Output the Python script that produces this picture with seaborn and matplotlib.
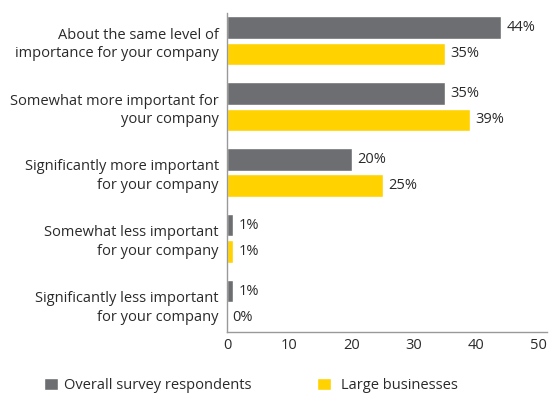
import matplotlib
matplotlib.use("Agg")
import matplotlib.pyplot as plt
import seaborn as sns
import pandas as pd
from matplotlib.patches import Patch

categories = [
    "About the same level of\nimportance for your company",
    "Somewhat more important for\nyour company",
    "Significantly more important\nfor your company",
    "Somewhat less important\nfor your company",
    "Significantly less important\nfor your company",
]
series_names = ["Overall survey respondents", "Large businesses"]
overall = [44, 35, 20, 1, 1]
large = [35, 39, 25, 1, 0]
x_ticks = [0, 10, 20, 30, 40, 50]

colors = ["#6d6e71", "#ffd200"]
text_color = "#2a2a2a"

rows = []
for c, v in zip(categories, overall):
    rows.append({"category": c, "series": series_names[0], "value": v})
for c, v in zip(categories, large):
    rows.append({"category": c, "series": series_names[1], "value": v})
df = pd.DataFrame(rows)

sns.set_theme(style="white")
plt.rcParams["font.family"] = ["Open Sans", "DejaVu Sans"]

fig = plt.figure(figsize=(5.53, 3.94), dpi=100)
ax = fig.add_axes([227 / 553, 1 - 332 / 394, 320 / 553, (332 - 13) / 394])

sns.barplot(data=df, y="category", x="value", hue="series", order=categories,
            hue_order=series_names, palette=colors, orient="h",
            width=0.8, gap=0.15, ax=ax, legend=False, saturation=1)

for cont in ax.containers:
    ax.bar_label(cont, fmt="%d%%", padding=4, fontsize=10.5, color=text_color)

ax.set_xlim(0, 51.4)
ax.set_ylim(4.42, -0.42)
ax.set_xticks(x_ticks)
ax.set_xticklabels([str(t) for t in x_ticks], fontsize=10.5, color=text_color)
ax.tick_params(axis="y", labelsize=10.5, colors=text_color, length=0, pad=6)
ax.tick_params(axis="x", length=0, pad=4)
for lbl in ax.get_yticklabels():
    lbl.set_horizontalalignment("right")
    lbl.set_multialignment("right")
    lbl.set_linespacing(1.3)
ax.set_xlabel("")
ax.set_ylabel("")
for s in ["top", "right"]:
    ax.spines[s].set_visible(False)
for s in ["left", "bottom"]:
    ax.spines[s].set_color("#999999")
    ax.spines[s].set_linewidth(1)

leg_y = (394 - 385.5) / 394
for name, col, x0, tp in [(series_names[0], colors[0], 44, 0.4),
                          (series_names[1], colors[1], 317, 0.72)]:
    fig.legend([Patch(facecolor=col)], [name], loc="center left",
               bbox_to_anchor=(x0 / 553, leg_y), frameon=False, fontsize=10.5,
               handlelength=0.95, handleheight=0.85, handletextpad=tp,
               borderpad=0, borderaxespad=0, labelcolor=text_color)

fig.savefig("out.png", dpi=100)
